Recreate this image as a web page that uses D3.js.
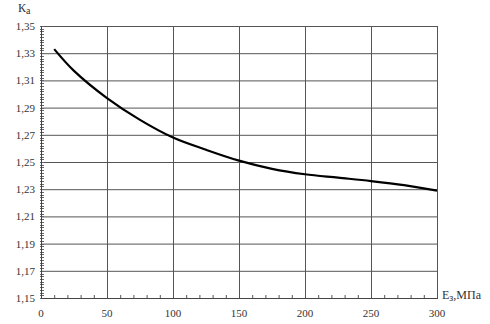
<!DOCTYPE html>
<html><head><meta charset="utf-8">
<script src="https://cdn.jsdelivr.net/npm/d3@7"></script>
<style>body{margin:0;background:#fff}svg{display:block}text{font-family:"Liberation Serif","Times New Roman",serif;fill:#333}</style>
</head><body><svg id="c" width="490" height="324"></svg>
<script>
const eValues = [10, 25, 50, 75, 100, 125, 150, 175, 200, 225, 250, 275, 300];
const kValues = [1.333, 1.317, 1.297, 1.281, 1.268, 1.259, 1.251, 1.245, 1.241, 1.2385, 1.236, 1.233, 1.229];
const xTicks = [0, 50, 100, 150, 200, 250, 300];
const yTicks = [1.15, 1.17, 1.19, 1.21, 1.23, 1.25, 1.27, 1.29, 1.31, 1.33, 1.35];

const svg = d3.select("#c");
const x = d3.scaleLinear().domain([0, 300]).range([41, 437]);
const y = d3.scaleLinear().domain([1.15, 1.35]).range([298, 26]);
const fmt = d => d3.format(".2f")(d).replace(".", ",");

// grid
svg.append("g").selectAll("line").data(xTicks.slice(1)).join("line")
  .attr("x1", d => x(d) + 0.5).attr("x2", d => x(d) + 0.5)
  .attr("y1", y(1.35)).attr("y2", y(1.15))
  .attr("stroke", "#555").attr("stroke-width", 1);
svg.append("g").selectAll("line").data(yTicks.slice(1)).join("line")
  .attr("x1", x(0)).attr("x2", x(300))
  .attr("y1", d => y(d) + 0.5).attr("y2", d => y(d) + 0.5)
  .attr("stroke", "#555").attr("stroke-width", 1);

// minor ticks
const xMinor = d3.range(0, 301, 10);
svg.append("g").selectAll("line").data(xMinor).join("line")
  .attr("x1", d => x(d) + 0.5).attr("x2", d => x(d) + 0.5)
  .attr("y1", y(1.15) - 3).attr("y2", y(1.15) + 1)
  .attr("stroke", "#555");
const yMinor = d3.range(0, 101).map(i => 1.15 + i * 0.002);
svg.append("g").selectAll("line").data(yMinor).join("line")
  .attr("x1", x(0) - 1).attr("x2", x(0) + 3)
  .attr("y1", d => Math.round(y(d)) + 0.5).attr("y2", d => Math.round(y(d)) + 0.5)
  .attr("stroke", "#666");

// axes lines
svg.append("line").attr("x1", x(0) + 0.5).attr("x2", x(0) + 0.5).attr("y1", y(1.35)).attr("y2", y(1.15) + 1).attr("stroke", "#444");
svg.append("line").attr("x1", x(0)).attr("x2", x(300) + 1).attr("y1", y(1.15) + 0.5).attr("y2", y(1.15) + 0.5).attr("stroke", "#444");

// tick labels
svg.append("g").selectAll("text").data(yTicks).join("text")
  .attr("x", 35).attr("y", d => y(d) + 4).attr("text-anchor", "end")
  .attr("font-size", 11).text(fmt);
svg.append("g").selectAll("text").data(xTicks).join("text")
  .attr("x", d => x(d)).attr("y", 317).attr("text-anchor", "middle")
  .attr("font-size", 11).text(d => d);

// axis titles
const ty = svg.append("text").attr("x", 18).attr("y", 12).attr("font-size", 12);
ty.append("tspan").text("К");
ty.append("tspan").attr("font-size", 10).attr("dy", 2).text("а");
const tx = svg.append("text").attr("x", 442).attr("y", 299).attr("font-size", 12);
tx.append("tspan").text("Е");
tx.append("tspan").attr("font-size", 10).attr("dy", 2).text("з");
tx.append("tspan").attr("dy", -2).text(",МПа");

// curve
const line = d3.line().x((d, i) => x(eValues[i])).y(d => y(d)).curve(d3.curveCatmullRom.alpha(0.5));
svg.append("path").datum(kValues).attr("d", line)
  .attr("fill", "none").attr("stroke", "#000").attr("stroke-width", 2.2);
</script></body></html>
